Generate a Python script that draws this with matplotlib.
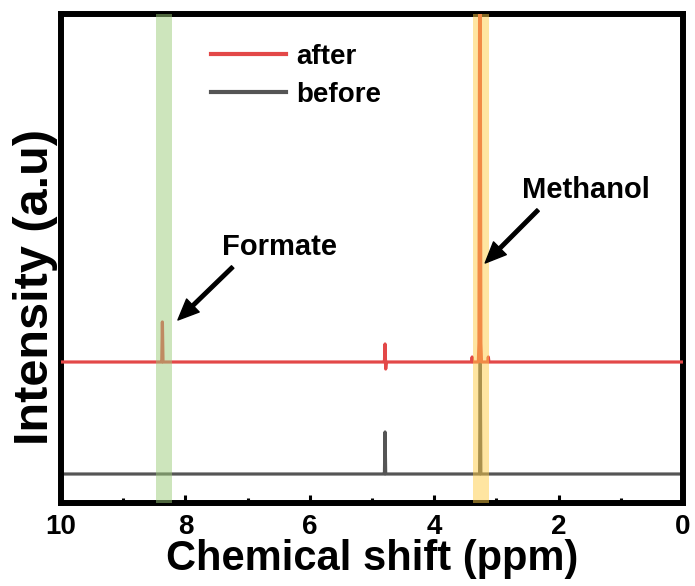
import matplotlib
matplotlib.use("Agg")
import matplotlib.pyplot as plt
from matplotlib.ticker import MultipleLocator

plt.rcParams['font.family'] = ['Liberation Sans', 'DejaVu Sans']
plt.rcParams['font.weight'] = 'bold'

# spectra (ppm, intensity in a.u.)
before_ppm = [10.0, 4.81, 4.80, 4.79, 4.78, 3.28, 3.27, 3.26, 3.25, 0.0]
before_int = [29, 29, 29, 71, 29, 29, 29, 142, 29, 29]

after_ppm = [10.0, 8.39, 8.38, 8.37, 8.36, 4.81, 4.80, 4.79, 4.78, 4.77,
             3.40, 3.39, 3.38, 3.29, 3.28, 3.265, 3.25, 3.24,
             3.14, 3.13, 3.12, 0.0]
after_int = [141, 141, 141, 181, 141, 141, 141, 159, 134, 141,
             141, 146, 141, 141, 160, 650, 160, 141,
             141, 146, 141, 141]

formate_band = (8.48, 8.21)
methanol_band = (3.38, 3.12)

fig = plt.figure(figsize=(6.95, 5.86), dpi=100)
ax = fig.add_axes([61 / 695, 83 / 586, 622 / 695, 489 / 586])

ax.plot(before_ppm, before_int, color='#555555', lw=2.3, label='before', zorder=2)
ax.plot(after_ppm, after_int, color='#e34848', lw=2.3, label='after', zorder=3)

ax.axvspan(*formate_band, color='#9ccc7a', alpha=0.5, lw=0, zorder=4)
ax.axvspan(*methanol_band, color='#ffcc45', alpha=0.5, lw=0, zorder=4)

ax.set_xlim(10, 0)
ax.set_ylim(0, 489)
ax.set_yticks([])
ax.xaxis.set_major_locator(MultipleLocator(2))
ax.xaxis.set_minor_locator(MultipleLocator(1))
ax.tick_params(axis='x', which='major', direction='in', length=5.5, width=2.2,
               labelsize=20, pad=8)
ax.tick_params(axis='x', which='minor', direction='in', length=3.5, width=2.2)
for s in ax.spines.values():
    s.set_linewidth(4.3)

ax.set_xlabel('Chemical shift (ppm)', fontsize=30, fontweight='bold', labelpad=-1)
fig.text(36 / 695, 1 - 287 / 586, 'Intensity (a.u)', rotation=90, fontsize=35,
         fontweight='bold', ha='center', va='center')

ax.annotate('', xy=(3.18, 240), xytext=(2.33, 293),
            arrowprops=dict(facecolor='black', edgecolor='black', width=2.5,
                            headwidth=13, headlength=15, shrink=0), zorder=5)
ax.text(2.59, 305, 'Methanol', fontsize=21, fontweight='bold', ha='left', va='baseline')
ax.annotate('', xy=(8.12, 183), xytext=(7.24, 236),
            arrowprops=dict(facecolor='black', edgecolor='black', width=2.5,
                            headwidth=13, headlength=15, shrink=0), zorder=5)
ax.text(7.41, 248, 'Formate', fontsize=21, fontweight='bold', ha='left', va='baseline')

handles, labels = ax.get_legend_handles_labels()
leg = ax.legend(handles[::-1], labels[::-1], loc='upper left',
                bbox_to_anchor=(0.219, 0.968), frameon=False, fontsize=20,
                handlelength=2.7, handletextpad=0.35, labelspacing=0.45,
                borderpad=0)
for ln in leg.get_lines():
    ln.set_linewidth(3)

fig.savefig('out.png', dpi=100)
